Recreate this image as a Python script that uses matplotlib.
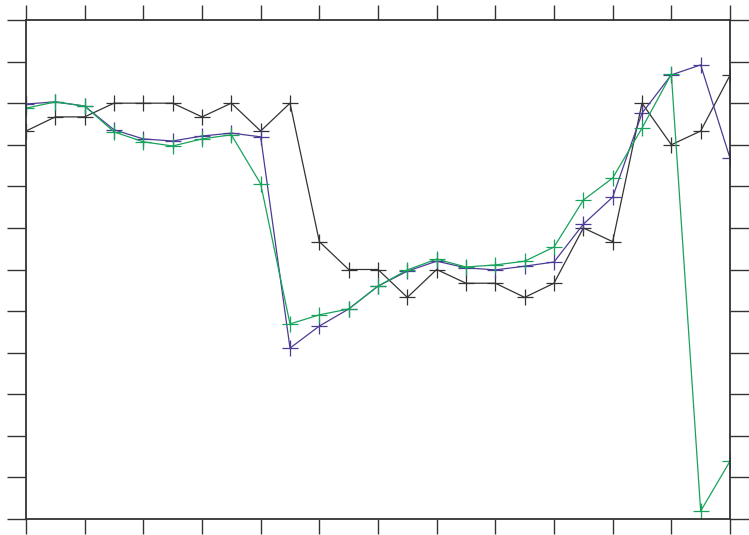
import numpy as np
import matplotlib
matplotlib.use('Agg')
import matplotlib.pyplot as plt

# x positions: 25 samples, ticks every 2 samples
x = np.arange(25)

black = [9.33, 9.67, 9.67, 10.0, 10.0, 10.0, 9.67, 10.0, 9.33, 10.0,
         6.67, 6.0, 6.0, 5.33, 6.0, 5.67, 5.67, 5.33, 5.67, 7.0,
         6.67, 10.0, 9.0, 9.33, 10.67]
purple = [9.98, 10.03, 9.93, 9.36, 9.14, 9.09, 9.21, 9.28, 9.19, 4.11,
          4.64, 5.05, 5.60, 5.96, 6.20, 6.04, 5.99, 6.08, 6.18, 7.09,
          7.74, 9.76, 10.68, 10.92, 8.68]
green = [9.88, 10.03, 9.93, 9.31, 9.07, 8.97, 9.14, 9.24, 8.06, 4.69,
         4.91, 5.05, 5.60, 5.99, 6.25, 6.06, 6.11, 6.20, 6.54, 7.67,
         8.20, 9.40, 10.70, 0.19, 1.39]

fig = plt.figure(figsize=(7.49, 5.35), dpi=100)
ax = fig.add_axes([26 / 749, 16 / 535, 704 / 749, 499 / 535])

ax.plot(x, black, color='#333333', lw=0.9, marker='+', ms=11, mew=0.9)
ax.plot(x, purple, color='#4b3b94', lw=0.9, marker='+', ms=11, mew=0.9)
ax.plot(x, green, color='#17a35b', lw=0.9, marker='+', ms=11, mew=0.9)

ax.set_xlim(0, 24)
ax.set_ylim(0, 12)
ax.set_xticks(np.arange(0, 25, 2))
ax.set_yticks(np.arange(0, 13, 1))
ax.tick_params(direction='out', width=1, color='#333333',
               top=True, right=True, labelbottom=False, labelleft=False)
ax.tick_params(axis='x', length=11)
ax.tick_params(axis='y', length=14)
for s in ax.spines.values():
    s.set_color('#333333')
    s.set_linewidth(1.3)

fig.savefig('out.png', dpi=100)
